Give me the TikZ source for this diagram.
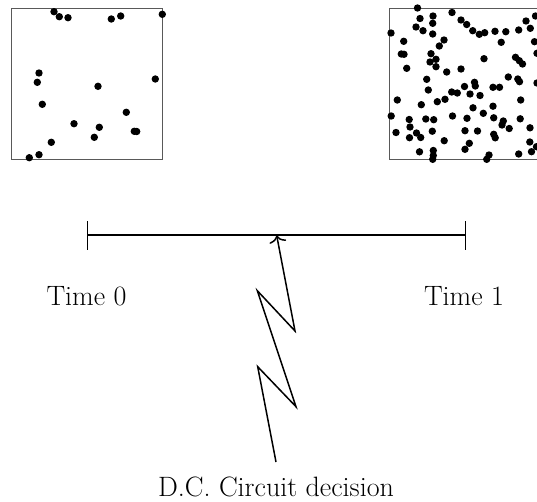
\documentclass[tikz,border=0pt]{standalone}
\usetikzlibrary{arrows.meta}
\begin{document}
\begin{tikzpicture}[x=1pt,y=-1pt,
  boxframe/.style={draw=black!65,line width=1pt},
  dotmark/.style={fill=black},
  axis/.style={draw=black,line width=1.5pt},
  zig/.style={draw=black,line width=1.5pt,line join=miter,-{To[length=7pt,width=17pt]}},
  lbl/.style={font=\fontsize{28}{34}\selectfont,inner sep=0pt,anchor=base}]
\useasboundingbox (0,0) rectangle (537,501);
\begin{scope}
\clip (0,0) rectangle (537,501);
% left box (time 0)
\draw[boxframe] (11.7,8.3) rectangle (162.7,159.3);
\foreach \p in {(54,11.7),(59.3,16.7),(68,17.7),(111.3,19),(120.7,16),(162.3,14.3),
 (39,73),(37.3,82.3),(98,86.3),(155.3,79),(42.3,104.3),(126.3,112.3),(74,123.7),
 (99.3,127.3),(94.3,137.3),(134.3,131.3),(136.7,131.5),(51.3,142.3),(39,154.7),(29.3,157.7)}
  \fill[dotmark] \p circle[radius=3.7pt];
% right box (time 1)
\draw[boxframe] (389.7,8.3) rectangle (540.7,159.3);
\foreach \p in {(417.5,8),(433,16),(420,18.5),(452,12.5),(461,20),(432.7,23.3),(416,27),
 (423,30.7),(391,33),(432.7,34),(444,40),(403.7,41.3),(439.3,46),(401.3,54),(404,54.3),
 (431,53.7),(436,59.3),(430,62),(436,66.7),(406.7,68.3),(446.7,72),(461,69),(426.7,79.3),
 (535.5,16),(466.7,24.5),(472.7,30.7),(479.3,34.3),(484.7,32.7),(495,31.3),(505.8,31.7),
 (518.7,30),(526,21),(530.3,28.3),(501.2,42.3),(534.5,41.7),(484,58.7),(515.5,57.3),
 (519.3,60.7),(522.5,64),(537,53.3),(508.3,77),(517.8,79),(519.5,81.7),(474.5,82.3),
 (475.3,86),(537,83),
 (464.5,86.5),(428.3,90),(451.7,92),(457.3,93),(397.3,100),(445,99.3),(437.3,101.7),
 (421.3,104.7),(391.2,116),(409.2,119.5),(425.8,119),(433.7,119.7),(452.5,116),(410,127),
 (396,132.5),(416.5,133),(420.7,137.5),(432.3,131.2),(409.5,137.7),(444.2,140.7),
 (419.5,151.8),(433.3,150.5),(433.3,155.5),(432.7,159.3),
 (470,94),(493,87.3),(499.5,87.3),(480,95.5),(520.7,100),(473,107.8),(493,106.2),
 (483.3,113.3),(467,118.3),(493.7,117.8),(520.2,118.8),(503.3,121),(502,125),(509.2,128.5),
 (530,127.8),(465,130.7),(477.5,131),(493.7,134.3),(495.2,137.8),(529.8,142),(469.3,143.3),
 (465,149.3),(531.5,151.7),(518.7,154),(489,155),(486.7,159.3),(536.5,146.7)}
  \fill[dotmark] \p circle[radius=3.7pt];
\end{scope}
% timeline
\coordinate (t0) at (87.3,235);
\coordinate (t1) at (465.7,235);
\coordinate (tip) at (276.7,235.5);
\draw[axis] (t0) -- (t1);
\draw[axis] ([yshift=-14.5pt]t0) -- ([yshift=14.5pt]t0);
\draw[axis] ([yshift=-14.5pt]t1) -- ([yshift=14.5pt]t1);
% labels
\node[lbl] (time0) at (86.5,305) {Time 0};
\node[lbl] (time1) at (464,305) {Time 1};
\node[lbl] (dc) at (276,496.5) {D.C. Circuit decision};
% zigzag arrow
\coordinate (z0) at (276,462);
\coordinate (z1) at (257.7,366.7);
\coordinate (z2) at (296,406.7);
\coordinate (z3) at (257.3,290.7);
\coordinate (z4) at (295,331);
\draw[zig] (z0) -- (z1) -- (z2) -- (z3) -- (z4) -- (tip);
\end{tikzpicture}
\end{document}
